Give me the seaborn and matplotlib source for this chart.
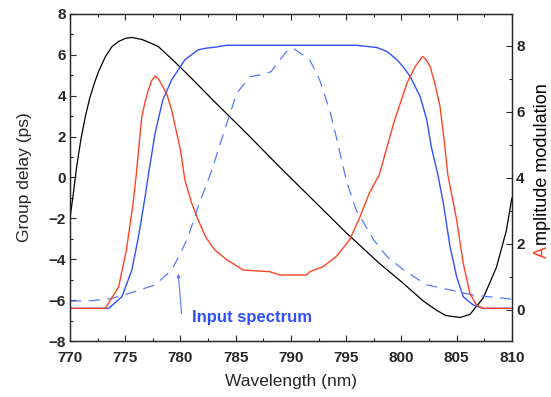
import matplotlib
matplotlib.use("Agg")
from matplotlib import pyplot as plt
from matplotlib.ticker import MultipleLocator
import seaborn as sns

# Group delay (ps), left axis
delay_wl = [770.0, 770.3, 770.6, 771.0, 771.4, 771.8, 772.2, 772.6, 773.2, 773.8,
            774.4, 775.0, 775.6, 776.5, 777.2, 778.0, 779.5, 781.0, 783.0, 786.0,
            789.0, 792.0, 795.0, 798.0, 800.0, 802.0, 803.2, 804.0, 805.3, 806.2,
            807.4, 808.6, 809.5, 810.0]
delay_ps = [-2.0, -0.8, 0.5, 1.9, 3.0, 3.9, 4.6, 5.2, 5.9, 6.4,
            6.65, 6.8, 6.85, 6.75, 6.6, 6.4, 5.65, 4.85, 3.75, 2.15,
            0.5, -1.1, -2.7, -4.2, -5.1, -6.05, -6.5, -6.75, -6.85, -6.7,
            -5.9, -4.4, -2.6, -1.0]

# Amplitude modulation, right axis (red)
mod_wl = [770.0, 773.2, 774.4, 775.1, 775.7, 776.0, 776.5, 776.8, 777.1, 777.4,
          777.7, 778.0, 778.4, 778.8, 779.2, 780.0, 780.4, 781.0, 781.6, 782.3,
          783.1, 784.2, 785.7, 788.1, 789.0, 791.4, 791.7, 792.9, 794.1, 795.3,
          796.2, 797.1, 798.0, 799.3, 800.5, 801.2, 801.9, 802.2, 802.6, 803.0,
          803.5, 803.9, 804.2, 805.0, 805.6, 806.2, 806.8, 807.4, 810.0]
mod_amp = [0.05, 0.05, 0.7, 1.8, 3.2, 4.1, 5.86, 6.3, 6.67, 6.95,
           7.09, 7.0, 6.77, 6.5, 6.06, 4.85, 3.94, 3.25, 2.73, 2.2,
           1.82, 1.52, 1.21, 1.16, 1.06, 1.06, 1.16, 1.31, 1.62, 2.12,
           2.78, 3.54, 4.1, 5.66, 6.87, 7.35, 7.68, 7.6, 7.37, 6.9,
           6.16, 5.05, 4.1, 2.73, 1.41, 0.5, 0.15, 0.05, 0.05]

# Filter transmission, right axis (solid blue)
filt_wl = [770.0, 773.5, 774.7, 775.6, 776.2, 776.8, 777.1, 777.7, 778.4, 779.2,
           780.4, 781.6, 782.3, 783.1, 784.2, 795.9, 797.8, 798.7, 799.6, 800.2,
           800.8, 801.2, 801.7, 802.3, 802.7, 803.3, 803.8, 804.4, 805.0, 805.6,
           806.5, 807.4, 810.0]
filt_amp = [0.05, 0.05, 0.4, 1.21, 2.22, 3.43, 4.1, 5.35, 6.36, 6.97,
            7.58, 7.88, 7.93, 7.96, 8.02, 8.02, 7.95, 7.83, 7.58, 7.35,
            7.07, 6.8, 6.46, 5.76, 4.95, 4.1, 3.23, 1.92, 1.01, 0.4,
            0.15, 0.05, 0.05]

# Input spectrum, right axis (dashed blue)
spec_wl = [770.0, 772.0, 773.8, 775.9, 777.7, 779.2, 780.0, 780.7, 781.6, 782.8,
           783.9, 785.1, 786.3, 787.2, 788.2, 789.6, 790.2, 791.7, 792.6, 793.5,
           794.1, 795.0, 795.9, 797.5, 798.7, 800.2, 802.3, 804.4, 806.5, 810.0]
spec_amp = [0.27, 0.28, 0.35, 0.56, 0.76, 1.21, 1.72, 2.22, 3.13, 4.2,
            5.35, 6.57, 7.07, 7.12, 7.22, 7.83, 7.93, 7.58, 6.97, 6.06,
            5.25, 3.94, 3.03, 2.12, 1.62, 1.21, 0.76, 0.61, 0.45, 0.33]

black = "#000000"
red = "#ff4422"
blue = "#2f50ff"
light_blue = "#5a78ff"

sns.set_style("ticks")
plt.rcParams["font.family"] = ["Liberation Sans", "DejaVu Sans"]

fig = plt.figure(figsize=(5.51, 3.97), dpi=100)
ax = fig.add_axes([0.127, 0.141, 0.802, 0.824])
ax2 = ax.twinx()

sns.lineplot(x=delay_wl, y=delay_ps, ax=ax, color=black, linewidth=0.9)
sns.lineplot(x=spec_wl, y=spec_amp, ax=ax2, color=light_blue, linewidth=0.9,
             linestyle=(0, (9, 6)))
sns.lineplot(x=filt_wl, y=filt_amp, ax=ax2, color=blue, linewidth=1.0)
sns.lineplot(x=mod_wl, y=mod_amp, ax=ax2, color=red, linewidth=1.0)

ax.set_xlim(770, 810)
ax.set_ylim(-8, 8)
ax2.set_ylim(-0.94, 8.97)

ax.xaxis.set_major_locator(MultipleLocator(5))
ax.xaxis.set_minor_locator(MultipleLocator(2.5))
ax.yaxis.set_major_locator(MultipleLocator(2))
ax.yaxis.set_minor_locator(MultipleLocator(1))
ax2.yaxis.set_major_locator(MultipleLocator(2))
ax2.yaxis.set_minor_locator(MultipleLocator(1))

ax.tick_params(axis="x", which="both", direction="in", top=True, bottom=True)
ax.tick_params(axis="y", which="both", direction="in", left=True, right=False)
ax2.tick_params(axis="y", which="both", direction="in", right=True, left=False)
for a in (ax, ax2):
    a.tick_params(which="major", length=4, width=0.8, labelsize=11, pad=3)
    a.tick_params(which="minor", length=2.5, width=0.8)
    for lab in a.get_xticklabels() + a.get_yticklabels():
        lab.set_fontweight("bold")
    for s in a.spines.values():
        s.set_linewidth(0.9)
        s.set_visible(True)
ax.tick_params(axis="x", which="major", pad=7)

ax.set_xlabel("Wavelength (nm)", fontsize=12.5, labelpad=7)
ax.set_ylabel("Group delay (ps)", fontsize=12.5, labelpad=12)

# right label: red "A" then the rest in black, stacked upward
a_txt = fig.text(0.993, 0.35, "A", rotation=90, rotation_mode="anchor",
                 ha="left", va="baseline", fontsize=13, color=red)
renderer = fig.canvas.get_renderer()
a_box = a_txt.get_window_extent(renderer).transformed(fig.transFigure.inverted())
fig.text(0.993, 0.35 + a_box.height + 0.002, "mplitude modulation", rotation=90,
         rotation_mode="anchor", ha="left", va="baseline", fontsize=13, color=black)

ax2.annotate("", xy=(779.8, 1.1), xytext=(780.1, -0.1),
             arrowprops=dict(arrowstyle="-|>", color=light_blue, lw=0.8,
                             mutation_scale=5, shrinkA=0, shrinkB=0))
ax2.text(781.0, -0.22, "Input spectrum", color=blue, fontsize=12,
         fontweight="bold", ha="left", va="center")

fig.savefig("out.png", dpi=100)
